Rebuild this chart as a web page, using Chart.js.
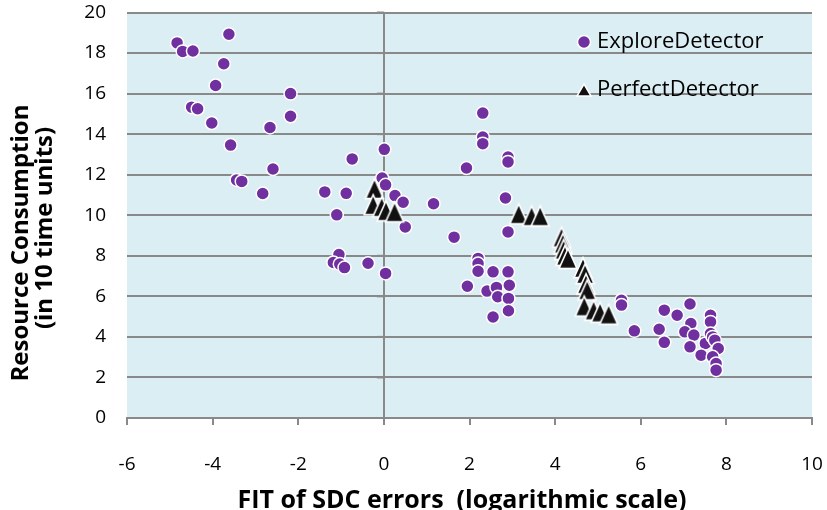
<!DOCTYPE html>
<html>
<head>
<meta charset="utf-8">
<script src="https://cdn.jsdelivr.net/npm/chart.js@4.4.0/dist/chart.umd.min.js"></script>
<style>
  html, body { margin: 0; padding: 0; background: #ffffff; }
  #wrap { width: 827px; height: 510px; }
</style>
</head>
<body>
<div id="wrap"><canvas id="c" width="827" height="510"></canvas></div>
<script>
// Series data: x = log FIT of SDC errors, y = resource consumption (10 time units)
const exploreX = [-4.83, -4.70, -4.46, -3.62, -3.74, -3.93, -2.18, -4.49, -4.35, -2.18, -4.02, -2.66, -3.58, -2.59, -3.44, -3.32, -2.83,
  0.01, -0.74, -1.38, -0.88, -0.04, 0.04, 0.26, 0.45, 1.16, -1.10, -1.05, -1.18, -1.03, -0.92, -0.37, 0.04, 0.50, 1.64,
  2.31, 2.31, 2.31, 2.90, 2.90, 1.93, 2.84, 2.90, 2.20, 2.20, 2.20, 2.55, 2.90, 1.95, 2.41, 2.63, 2.66, 2.93, 2.91, 2.91, 2.55,
  5.55, 5.55, 5.85, 6.55, 6.85, 7.15, 6.43, 6.55, 7.17, 7.03, 7.24, 7.15, 7.51, 7.41, 7.63, 7.63, 7.63, 7.68, 7.73, 7.81, 7.68, 7.76, 7.76];
const exploreY = [18.50, 18.08, 18.10, 18.93, 17.47, 16.40, 16.00, 15.33, 15.25, 14.88, 14.55, 14.33, 13.46, 12.28, 11.74, 11.67, 11.07,
  13.25, 12.78, 11.15, 11.08, 11.84, 11.50, 10.97, 10.64, 10.57, 10.02, 8.06, 7.67, 7.59, 7.42, 7.63, 7.13, 9.42, 8.92,
  15.04, 13.86, 13.53, 12.87, 12.63, 12.33, 10.85, 9.18, 7.87, 7.62, 7.24, 7.21, 7.21, 6.50, 6.26, 6.44, 5.98, 6.55, 5.90, 5.29, 4.98,
  5.81, 5.57, 4.30, 5.32, 5.07, 5.62, 4.38, 3.73, 4.66, 4.25, 4.09, 3.51, 3.68, 3.10, 5.07, 4.74, 4.17, 4.00, 3.84, 3.43, 3.02, 2.69, 2.36];
const perfectX = [-0.22, -0.25, -0.05, 0.05, 0.25, 3.15, 3.45, 3.65, 4.15, 4.18, 4.20, 4.23, 4.30, 4.65, 4.70, 4.72, 4.75, 4.68, 4.90, 5.05, 5.25];
const perfectY = [11.30, 10.50, 10.40, 10.20, 10.15, 10.05, 9.95, 9.95, 8.90, 8.60, 8.30, 8.00, 7.85, 7.40, 7.10, 6.60, 6.30, 5.50, 5.30, 5.20, 5.10];

const xTicks = [-6, -4, -2, 0, 2, 4, 6, 8, 10];
const yTicks = [0, 2, 4, 6, 8, 10, 12, 14, 16, 18, 20];
const seriesNames = ['ExploreDetector', 'PerfectDetector'];
const xTitle = 'FIT of SDC errors  (logarithmic scale)';
const yTitle = ['Resource Consumption', '(in 10 time units)'];

const GRID = '#898989';
const FONT = '"Open Sans", Lato, sans-serif';

const toPoints = (xs, ys) => xs.map((x, i) => ({ x: x, y: ys[i] }));

// Tall black triangle marker with a white outline
function triangleMarker(w, h, lw) {
  const pad = lw + 1;
  const cv = document.createElement('canvas');
  cv.width = Math.ceil(w + pad * 2);
  cv.height = Math.ceil(h + pad * 2);
  const g = cv.getContext('2d');
  g.beginPath();
  g.moveTo(cv.width / 2, pad);
  g.lineTo(cv.width / 2 + w / 2, pad + h);
  g.lineTo(cv.width / 2 - w / 2, pad + h);
  g.closePath();
  g.fillStyle = '#111111';
  g.fill();
  g.strokeStyle = '#ffffff';
  g.lineWidth = lw;
  g.lineJoin = 'miter';
  g.stroke();
  return cv;
}
const triImg = triangleMarker(18, 20, 1.6);

// Light blue plot-area fill behind the grid
const plotFill = {
  id: 'plotFill',
  beforeDraw(chart) {
    const { ctx, chartArea: a } = chart;
    ctx.save();
    ctx.fillStyle = '#DBEEF4';
    ctx.fillRect(a.left, a.top, a.right - a.left, a.bottom - a.top);
    ctx.restore();
  }
};

// Short tick marks on the vertical axis line (x = 0)
const axisTicks = {
  id: 'axisTicks',
  beforeDatasetsDraw(chart) {
    const { ctx, scales } = chart;
    const x0 = scales.x.getPixelForValue(0);
    ctx.save();
    ctx.strokeStyle = GRID;
    ctx.lineWidth = 2;
    yTicks.forEach(v => {
      const y = scales.y.getPixelForValue(v);
      ctx.beginPath();
      ctx.moveTo(x0 - 7, y);
      ctx.lineTo(x0, y);
      ctx.stroke();
    });
    ctx.restore();
  }
};

// Axis titles and the in-plot legend
const labels = {
  id: 'labels',
  afterDraw(chart) {
    const { ctx } = chart;
    ctx.save();
    ctx.fillStyle = '#000';
    ctx.textAlign = 'center';
    ctx.textBaseline = 'alphabetic';

    // horizontal axis title
    ctx.font = 'bold 25px ' + FONT;
    ctx.fillText(xTitle, 462, 508);

    // vertical axis title, two lines
    ctx.font = 'bold 24px ' + FONT;
    const spots = [[28, 243], [52, 228]];
    yTitle.forEach((t, i) => {
      ctx.save();
      ctx.translate(spots[i][0], spots[i][1]);
      ctx.rotate(-Math.PI / 2);
      ctx.fillText(t, 0, 0);
      ctx.restore();
    });

    // legend
    const rows = [42, 90];
    chart.data.datasets.forEach((ds, i) => {
      const y = rows[i];
      const mx = 584;
      ctx.fillStyle = ds.backgroundColor;
      ctx.strokeStyle = '#fff';
      ctx.lineWidth = 1.5;
      ctx.beginPath();
      if (ds.pointStyle === 'circle') {
        ctx.arc(mx, y, 6.5, 0, Math.PI * 2);
      } else {
        ctx.moveTo(mx, y - 6);
        ctx.lineTo(mx + 7, y + 6);
        ctx.lineTo(mx - 7, y + 6);
        ctx.closePath();
      }
      ctx.fill();
      ctx.stroke();
      ctx.fillStyle = '#000';
      ctx.font = '22px ' + FONT;
      ctx.textAlign = 'left';
      ctx.textBaseline = 'middle';
      ctx.fillText(ds.label, 597, y);
    });
    ctx.restore();
  }
};

new Chart(document.getElementById('c'), {
  type: 'scatter',
  data: {
    datasets: [
      {
        label: seriesNames[0],
        data: toPoints(exploreX, exploreY),
        pointStyle: 'circle',
        pointRadius: 6.5,
        pointHoverRadius: 6.5,
        backgroundColor: '#7030A0',
        borderColor: '#ffffff',
        borderWidth: 1.5,
        order: 2
      },
      {
        label: seriesNames[1],
        data: toPoints(perfectX, perfectY),
        pointStyle: triImg,
        pointRadius: 11,
        pointHoverRadius: 11,
        backgroundColor: '#111111',
        borderColor: '#ffffff',
        borderWidth: 1.5,
        order: 1
      }
    ]
  },
  options: {
    responsive: false,
    devicePixelRatio: 1,
    animation: false,
    layout: { padding: { top: 12, right: 15, left: 0, bottom: 0 } },
    plugins: { legend: { display: false }, tooltip: { enabled: false } },
    scales: {
      x: {
        type: 'linear',
        min: -6,
        max: 10,
        afterBuildTicks: s => { s.ticks = xTicks.map(v => ({ value: v })); },
        afterFit: s => { s.height = 92; s.paddingLeft = 0; s.paddingRight = 0; },
        ticks: { color: '#000', font: { family: FONT, size: 19 }, padding: 28 },
        grid: {
          color: c => (c.tick && c.tick.value === 0) ? GRID : 'rgba(0,0,0,0)',
          lineWidth: 2,
          tickColor: GRID,
          tickLength: 7,
          drawTicks: true
        },
        border: { display: true, color: GRID, width: 2 },
        title: { display: false }
      },
      y: {
        type: 'linear',
        min: 0,
        max: 20,
        afterBuildTicks: s => { s.ticks = yTicks.map(v => ({ value: v })); },
        afterFit: s => { s.width = 127; s.paddingTop = 0; s.paddingBottom = 0; },
        ticks: { color: '#000', font: { family: FONT, size: 19 }, padding: 21 },
        grid: { color: GRID, lineWidth: 2, drawTicks: false },
        border: { display: false }
      }
    }
  },
  plugins: [plotFill, axisTicks, labels]
});
</script>
</body>
</html>
